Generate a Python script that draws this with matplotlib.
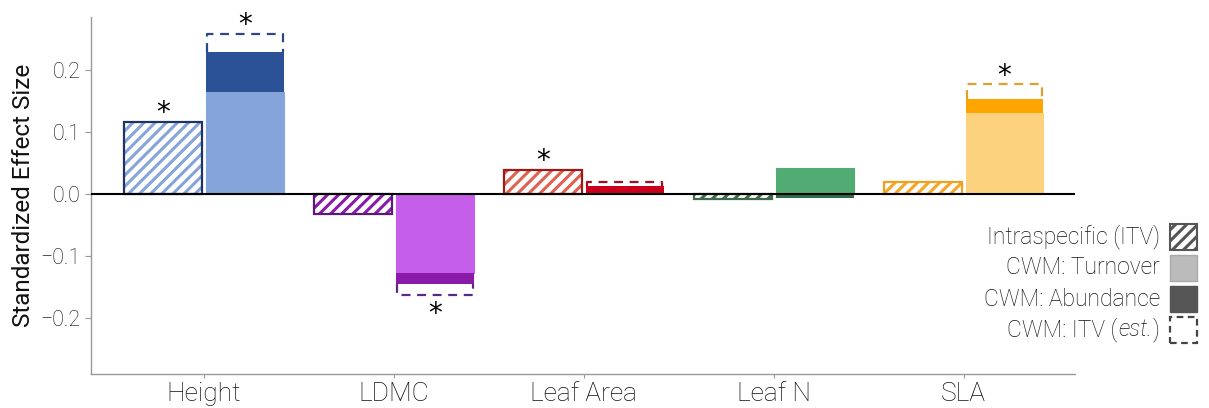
import matplotlib
matplotlib.use("Agg")
import matplotlib.pyplot as plt
from matplotlib.patches import Rectangle
import numpy as np

traits = ['Height', 'LDMC', 'Leaf Area', 'Leaf N', 'SLA']
itv = [0.116, -0.032, 0.039, -0.008, 0.019]
turnover = [0.165, -0.127, 0.001, 0.042, 0.130]
abundance = [0.064, -0.018, 0.012, -0.006, 0.023]
itv_est = [0.029, -0.017, 0.006, 0.0, 0.024]
itv_sig = [True, False, True, False, False]
est_sig = [True, True, False, False, True]

light = ['#85a4da', '#c55ee8', '#f2a3a3', '#52ab72', '#fdd27f']
dark = ['#2b5296', '#8a1aaa', '#c8001e', '#2e6b45', '#ffa500']
hatchc = ['#85a4da', '#8a1aaa', '#e06050', '#3d6b4b', '#f5a623']
edgec = ['#1f3460', '#5b1a75', '#9b1b1b', '#3d6b4b', '#f0a020']
estc = ['#2b4a80', '#5b2a80', '#a01020', '#3d6b4b', '#e0a030']

FONT = ['Roboto', 'DejaVu Sans']
plt.rcParams['font.family'] = FONT
plt.rcParams['font.weight'] = 'light'
plt.rcParams['hatch.linewidth'] = 2.2

fig = plt.figure(figsize=(12.09, 4.08), dpi=100)
ax = fig.add_axes([0.0753, 0.0833, 0.8137, 0.875])

x = np.arange(len(traits))
w = 0.41
off = 0.215
TXT = '#111111'

# ITV hatched bars
for i in range(len(traits)):
    ax.bar(x[i] - off, itv[i], width=w, facecolor='white', edgecolor=hatchc[i],
           hatch='///', linewidth=0, zorder=2)
    ax.bar(x[i] - off, itv[i], width=w, facecolor='none', edgecolor=edgec[i],
           linewidth=1.6, zorder=3)

star_kw = dict(textcoords='offset points', ha='center', va='bottom', fontsize=20,
               family='DejaVu Sans', fontweight='normal', color='black')

# CWM stacked bars
for i in range(len(traits)):
    t = turnover[i]
    a = abundance[i]
    ax.bar(x[i] + off, t, width=w, color=light[i], edgecolor=light[i],
           linewidth=0.8, zorder=2)
    if np.sign(a) == np.sign(t) or t == 0:
        base = t
    else:
        base = 0.0
    ax.bar(x[i] + off, a, bottom=base, width=w, color=dark[i], linewidth=0, zorder=2)
    top = base + a
    e = itv_est[i]
    end = top + e
    if abs(e) > 1e-6:
        hw = w * 0.97 / 2
        ax.plot([x[i] + off - hw, x[i] + off - hw, x[i] + off + hw, x[i] + off + hw],
                [top, end, end, top], color=estc[i], linestyle=(0, (4, 3)),
                linewidth=1.6, zorder=1.5, solid_capstyle='butt')
    if est_sig[i]:
        if end > 0:
            ax.annotate('*', (x[i] + off, end), xytext=(0, -4), **star_kw)
        else:
            ax.annotate('*', (x[i] + off, end), xytext=(0, -24), **star_kw)

for i in range(len(traits)):
    if itv_sig[i]:
        ax.annotate('*', (x[i] - off, itv[i]), xytext=(0, -4), **star_kw)

ax.axhline(0, color='black', linewidth=1.5, zorder=4)

ax.set_xlim(-0.595, 4.585)
ax.set_ylim(-0.29, 0.285)
ax.set_yticks([-0.2, -0.1, 0.0, 0.1, 0.2])
ax.set_yticklabels(['\u22120.2', '\u22120.1', '0.0', '0.1', '0.2'])
ax.set_xticks(x)
ax.set_xticklabels(traits, fontsize=19)
ax.tick_params(axis='y', labelsize=15.5, color='#999999', length=4, labelcolor=TXT)
ax.tick_params(axis='x', color='#999999', length=3, pad=3, labelcolor=TXT)
ax.set_ylabel('Standardized Effect Size', fontsize=17.5, color=TXT, labelpad=4)
for s in ['top', 'right']:
    ax.spines[s].set_visible(False)
for s in ['left', 'bottom']:
    ax.spines[s].set_color('#999999')
    ax.spines[s].set_linewidth(1.0)

# Legend (manual, right-aligned text with patch to the right)
W, H = 1209, 408
ys = [237, 268, 299, 330]
bw, bh = 27, 26
bx = 1170
tx = 1160 / W
LFS = 16.5
fig.text(tx, 1 - ys[0] / H, 'Intraspecific (ITV)', ha='right', va='center', fontsize=LFS, color=TXT)
fig.text(tx, 1 - ys[1] / H, 'CWM: Turnover', ha='right', va='center', fontsize=LFS, color=TXT)
fig.text(tx, 1 - ys[2] / H, 'CWM: Abundance', ha='right', va='center', fontsize=LFS, color=TXT)
# composite label with italic part
renderer = fig.canvas.get_renderer()
t3 = fig.text(tx, 1 - ys[3] / H, ')', ha='right', va='center', fontsize=LFS, color=TXT)
bb = t3.get_window_extent(renderer)
t2 = fig.text(bb.x0 / W - 1 / W, 1 - ys[3] / H, 'est.', ha='right', va='center', fontsize=LFS,
              color=TXT, fontstyle='italic')
bb2 = t2.get_window_extent(renderer)
fig.text(bb2.x0 / W - 1 / W, 1 - ys[3] / H, 'CWM: ITV (', ha='right', va='center', fontsize=LFS,
         color=TXT)

for k, yy in enumerate(ys):
    r0 = (bx / W, 1 - (yy + bh / 2) / H)
    rw, rh = bw / W, bh / H
    if k == 0:
        fig.patches.append(Rectangle(r0, rw, rh, transform=fig.transFigure, facecolor='white',
                                     edgecolor='#555555', hatch='///', linewidth=0))
        fig.patches.append(Rectangle(r0, rw, rh, transform=fig.transFigure, facecolor='none',
                                     edgecolor='#555555', linewidth=1.5))
    elif k == 1:
        fig.patches.append(Rectangle(r0, rw, rh, transform=fig.transFigure, facecolor='#bbbbbb',
                                     edgecolor='#aaaaaa', linewidth=1))
    elif k == 2:
        fig.patches.append(Rectangle(r0, rw, rh, transform=fig.transFigure, facecolor='#555555',
                                     edgecolor='#555555', linewidth=1))
    else:
        fig.patches.append(Rectangle(r0, rw, rh, transform=fig.transFigure, facecolor='white',
                                     edgecolor='#444444', linewidth=1.6, linestyle=(0, (3, 2))))

fig.savefig('out.png', dpi=100)
